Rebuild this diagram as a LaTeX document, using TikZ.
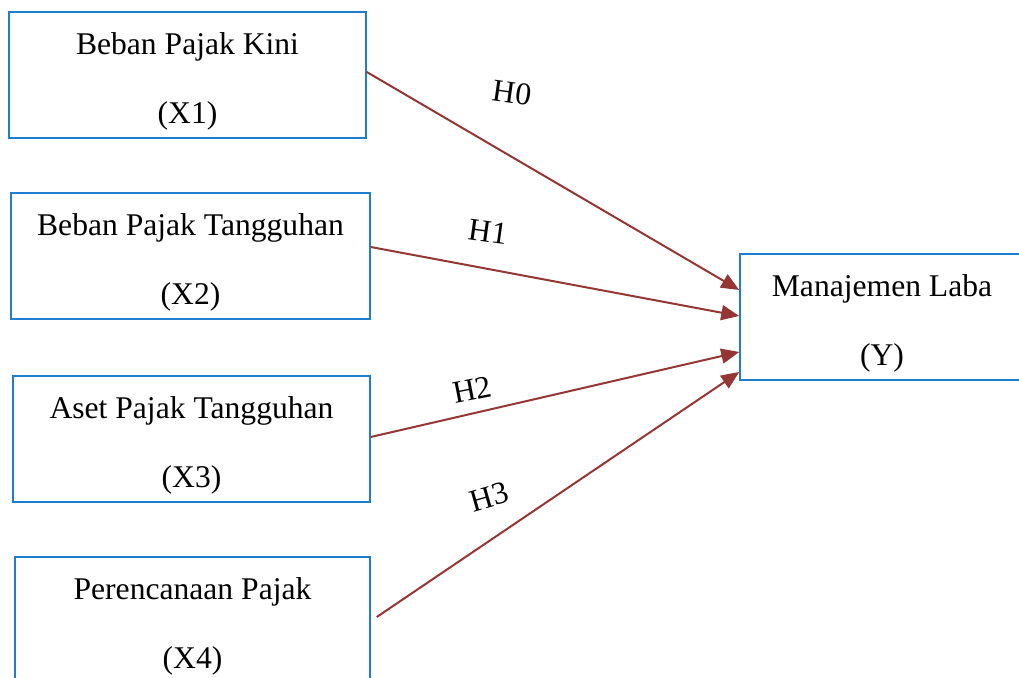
\documentclass[tikz,border=0pt]{standalone}
\usepackage{fontspec}
\setmainfont{Liberation Serif}
\usepackage{xcolor}
\usetikzlibrary{positioning,arrows.meta,calc}
\definecolor{boxblue}{RGB}{30,125,205}
\definecolor{arrred}{RGB}{148,54,52}
\newcommand{\topgap}{\rule{0pt}{17.4pt}}

\begin{document}
\begin{tikzpicture}[
  x=0.5pt,y=-0.5pt,
  font=\fontsize{15.8}{34.5}\selectfont,
  box/.style={draw=boxblue,line width=0.75pt,minimum height=63pt,align=center,inner sep=0pt},
  ar/.style={-{Triangle[length=9pt,width=7.5pt]},arrred,line width=1pt},
  hlab/.style={inner sep=0pt},
]
\useasboundingbox (0,0) rectangle (1019,678);
\clip (0,0) rectangle (1019,678);
\node[box,minimum width=178.5pt] (x1) at (187.5,75) {\topgap Beban Pajak Kini\\(X1)};
\node[box,minimum width=179.5pt] (x2) at (190.5,256) {\topgap Beban Pajak Tangguhan\\(X2)};
\node[box,minimum width=178.5pt] (x3) at (191.5,439) {\topgap Aset Pajak Tangguhan\\(X3)};
\node[box,minimum width=177.5pt] (x4) at (192.5,620) {\topgap Perencanaan Pajak\\(X4)};
\node[box,minimum width=142pt] (y) at (882,317) {\topgap Manajemen Laba\\(Y)};
\draw[ar] ($(x1.east)+(0,-3)$)--($(y.west)+(0,-27)$);
\draw[ar] ($(x2.east)+(0,-9)$)--($(y.west)+(0,-1)$);
\draw[ar] ($(x3.east)+(0,-2)$)--($(y.west)+(0,35)$);
\draw[ar] ($(x4.east)+(6,-3)$)--($(y.west)+(0,55)$);
\node[hlab,rotate=-8] (h0) at (512,93) {H0};
\node[hlab,rotate=-8] (h1) at (488,232) {H1};
\node[hlab,rotate=11] (h2) at (472,390) {H2};
\node[hlab,rotate=16] (h3) at (489,497) {H3};
\end{tikzpicture}
\end{document}
